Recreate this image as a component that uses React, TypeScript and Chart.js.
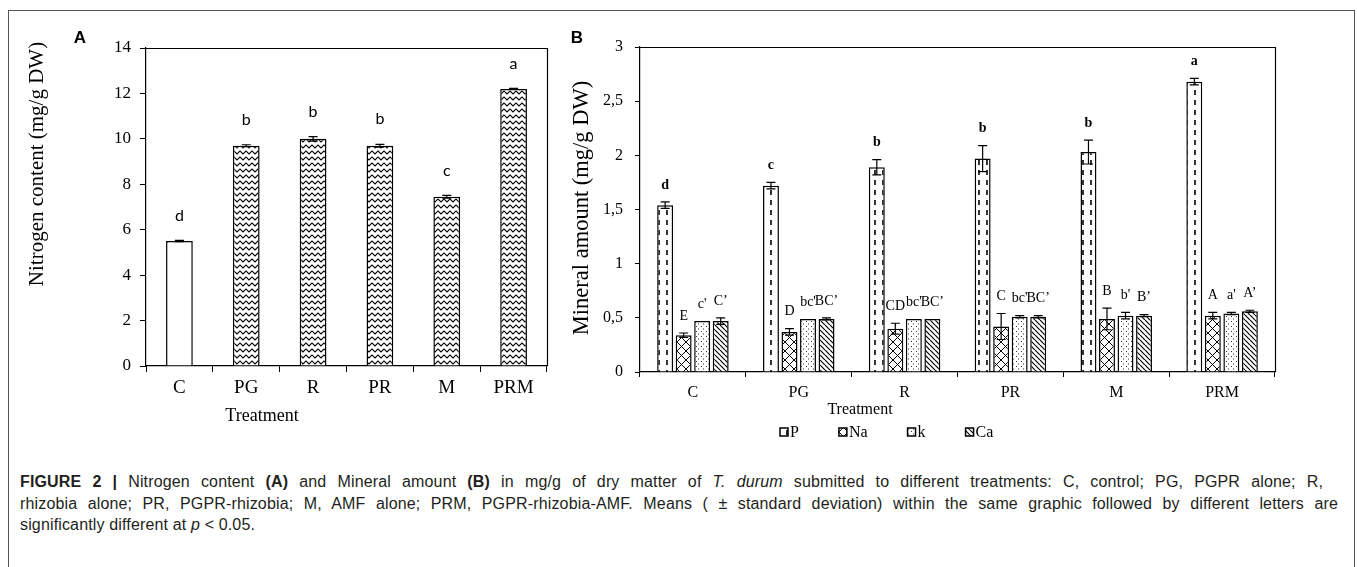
import React, { useEffect, useRef } from 'react';
import { Chart, registerables } from 'chart.js';

Chart.register(...registerables);

// ---------- data ----------
const treatments = ['C', 'PG', 'R', 'PR', 'M', 'PRM'];

const nitrogenValues = [5.5, 9.7, 10.0, 9.7, 7.45, 12.2];
const nitrogenSd = [0.03, 0.04, 0.1, 0.06, 0.06, 0.02];
const nitrogenLetters = ['d', 'b', 'b', 'b', 'c', 'a'];
const nitrogenTickMax = 14;
const nitrogenTickStep = 2;

const mineralNames = ['P', 'Na', 'k', 'Ca'];
const pValues = [1.54, 1.72, 1.89, 1.97, 2.03, 2.68];
const pSd = [0.03, 0.03, 0.07, 0.12, 0.11, 0.03];
const pLetters = ['d', 'c', 'b', 'b', 'b', 'a'];
const naValues = [0.34, 0.37, 0.4, 0.42, 0.49, 0.52];
const naSd = [0.02, 0.03, 0.05, 0.12, 0.1, 0.03];
const naLetters = ['E', 'D', 'CD', 'C', 'B', 'A'];
const kValues = [0.47, 0.49, 0.49, 0.51, 0.52, 0.54];
const kSd = [0.0, 0.0, 0.0, 0.01, 0.03, 0.01];
const kLetters = ["c'", "bc'", "bc'", "bc'", "b'", "a'"];
const caValues = [0.47, 0.49, 0.49, 0.51, 0.52, 0.56];
const caSd = [0.03, 0.01, 0.0, 0.01, 0.01, 0.01];
const caLetters = ['C’', 'BC’', 'BC’', 'BC’', 'B’', 'A’'];
const mineralTickMax = 3;
const mineralTickStep = 0.5;

const mineralSeries = [
  { name: mineralNames[0], values: pValues, sd: pSd, letters: pLetters, pattern: 'dash', bold: true },
  { name: mineralNames[1], values: naValues, sd: naSd, letters: naLetters, pattern: 'cross', bold: false },
  { name: mineralNames[2], values: kValues, sd: kSd, letters: kLetters, pattern: 'dots', bold: false },
  { name: mineralNames[3], values: caValues, sd: caSd, letters: caLetters, pattern: 'diag', bold: false },
];

// ---------- styles ----------
const SERIF = '"Liberation Serif", "Times New Roman", serif';
const SANS = 'Lato, "Liberation Sans", sans-serif';

function makePattern(kind: string): CanvasPattern | string {
  const c = document.createElement('canvas');
  const g = c.getContext('2d')!;
  let w = 6, h = 6;
  if (kind === 'zigzag') { w = 6; h = 6; }
  if (kind === 'dash') { w = 8; h = 10; }
  if (kind === 'cross') { w = 9; h = 9; }
  if (kind === 'dots') { w = 5; h = 5; }
  if (kind === 'diag') { w = 5; h = 5; }
  c.width = w; c.height = h;
  g.fillStyle = '#fff';
  g.fillRect(0, 0, w, h);
  g.strokeStyle = '#000';
  g.fillStyle = '#000';
  if (kind === 'zigzag') {
    g.lineWidth = 1.1;
    g.beginPath();
    g.moveTo(-3, 4); g.lineTo(0, 1); g.lineTo(3, 4); g.lineTo(6, 1); g.lineTo(9, 4);
    g.stroke();
  } else if (kind === 'dash') {
    g.lineWidth = 1.6;
    g.beginPath(); g.moveTo(3, 0); g.lineTo(3, 5); g.stroke();
  } else if (kind === 'cross') {
    g.lineWidth = 1;
    g.beginPath();
    g.moveTo(0, 0); g.lineTo(w, h);
    g.moveTo(w, 0); g.lineTo(0, h);
    g.stroke();
  } else if (kind === 'dots') {
    g.fillStyle = '#333';
    g.fillRect(1, 1, 1, 1);
    g.fillRect(3, 3.5, 1, 1);
  } else if (kind === 'diag') {
    g.lineWidth = 1.2;
    g.beginPath();
    for (const o of [-w, 0, w]) { g.moveTo(o, 0); g.lineTo(o + w, h); }
    g.stroke();
  }
  return g.createPattern(c, 'repeat')!;
}

function drawErrorBar(ctx: CanvasRenderingContext2D, x: number, yLo: number, yHi: number, cap: number) {
  ctx.beginPath();
  ctx.moveTo(x, yLo); ctx.lineTo(x, yHi);
  ctx.moveTo(x - cap / 2, yHi); ctx.lineTo(x + cap / 2, yHi);
  ctx.moveTo(x - cap / 2, yLo); ctx.lineTo(x + cap / 2, yLo);
  ctx.stroke();
}

function drawFrame(ctx: CanvasRenderingContext2D, ca: any) {
  ctx.strokeStyle = '#000';
  ctx.lineWidth = 1.2;
  ctx.beginPath();
  ctx.moveTo(ca.left, Math.round(ca.top) + 0.5);
  ctx.lineTo(Math.round(ca.right) + 0.5, Math.round(ca.top) + 0.5);
  ctx.lineTo(Math.round(ca.right) + 0.5, ca.bottom);
  ctx.stroke();
}

function drawRotated(ctx: CanvasRenderingContext2D, text: string, cx: number, cy: number, font: string) {
  ctx.save();
  ctx.translate(cx, cy);
  ctx.rotate(-Math.PI / 2);
  ctx.font = font;
  ctx.textAlign = 'center';
  ctx.textBaseline = 'middle';
  ctx.fillStyle = '#000';
  ctx.fillText(text, 0, 0);
  ctx.restore();
}

// ---------- panel A ----------
const annotA = {
  id: 'annotA',
  afterDraw(chart: any) {
    const { ctx, chartArea: ca, scales } = chart;
    const y = scales.y;
    ctx.save();
    drawFrame(ctx, ca);
    const meta = chart.getDatasetMeta(0);
    ctx.strokeStyle = '#000';
    ctx.lineWidth = 1.2;
    meta.data.forEach((bar: any, i: number) => {
      const v = nitrogenValues[i];
      const s = nitrogenSd[i];
      const yHi = y.getPixelForValue(v + s);
      const yLo = y.getPixelForValue(v - s);
      drawErrorBar(ctx, bar.x, yLo, yHi, 9);
      ctx.font = `16px ${SANS}`;
      ctx.fillStyle = '#000';
      ctx.textAlign = 'center';
      ctx.textBaseline = 'middle';
      ctx.fillText(nitrogenLetters[i], bar.x, yHi - 25);
    });
    drawRotated(ctx, 'Nitrogen content (mg/g DW)', 37, 164, `21px ${SERIF}`);
    ctx.font = `18px ${SERIF}`;
    ctx.textAlign = 'center';
    ctx.textBaseline = 'middle';
    ctx.fillStyle = '#000';
    ctx.fillText('Treatment', 262, 416);
    ctx.font = `bold 17px "Liberation Sans", Arial, sans-serif`;
    ctx.fillText('A', 80, 38);
    ctx.restore();
  },
};

function PanelA() {
  const ref = useRef<HTMLCanvasElement>(null);
  useEffect(() => {
    const zig = makePattern('zigzag');
    const chart = new Chart(ref.current!, {
      type: 'bar',
      data: {
        labels: treatments,
        datasets: [
          {
            label: 'Nitrogen content',
            data: nitrogenValues,
            backgroundColor: treatments.map((_, i) => (i === 0 ? '#ffffff' : zig)) as any,
            borderColor: '#000',
            borderWidth: 1.5,
            barPercentage: 0.4,
            categoryPercentage: 1,
          },
        ],
      },
      options: {
        responsive: false,
        animation: false,
        layout: { padding: { left: 0, top: 48, right: 13, bottom: 34 } },
        plugins: { legend: { display: false }, tooltip: { enabled: false } },
        scales: {
          x: {
            grid: { display: true, drawOnChartArea: false, drawTicks: true, tickLength: 6, color: '#000', offset: true },
            border: { display: true, color: '#000', width: 1.2 },
            ticks: { color: '#000', font: { family: SERIF, size: 19 }, padding: 5 },
            afterFit: (s: any) => { s.height = 40; },
          },
          y: {
            min: 0,
            max: nitrogenTickMax,
            ticks: { stepSize: nitrogenTickStep, color: '#000', font: { family: SERIF, size: 17 }, padding: 9 },
            grid: { display: true, drawOnChartArea: false, drawTicks: true, tickLength: 6, color: '#000' },
            border: { display: true, color: '#000', width: 1.2 },
            afterFit: (s: any) => { s.width = 146; },
          },
        },
      },
      plugins: [annotA],
    });
    return () => chart.destroy();
  }, []);
  return <canvas ref={ref} width={560} height={440} style={{ position: 'absolute', left: 0, top: 0 }} />;
}

// ---------- panel B ----------
function makeAnnotB(patterns: any[]) {
  return {
    id: 'annotB',
    afterDraw(chart: any) {
      const { ctx, chartArea: ca, scales } = chart;
      const y = scales.y;
      ctx.save();
      drawFrame(ctx, ca);
      ctx.strokeStyle = '#000';
      ctx.lineWidth = 1.2;
      mineralSeries.forEach((ser, d) => {
        const meta = chart.getDatasetMeta(d);
        meta.data.forEach((bar: any, i: number) => {
          const v = ser.values[i];
          const s = ser.sd[i];
          const yHi = y.getPixelForValue(v + s);
          const yLo = y.getPixelForValue(v - s);
          if (s > 0) drawErrorBar(ctx, bar.x, yLo, yHi, 9);
          ctx.font = ser.bold ? `bold 14px ${SERIF}` : `14px ${SERIF}`;
          ctx.fillStyle = '#000';
          ctx.textAlign = 'center';
          ctx.textBaseline = 'middle';
          ctx.fillText(ser.letters[i], bar.x, Math.min(yHi, bar.y) - 17);
        });
      });
      drawRotated(ctx, 'Mineral amount (mg/g DW)', 22, 208, `22.5px ${SERIF}`);
      ctx.font = `16px ${SERIF}`;
      ctx.textAlign = 'center';
      ctx.textBaseline = 'middle';
      ctx.fillStyle = '#000';
      ctx.fillText('Treatment', 300, 410);
      ctx.font = `bold 17px "Liberation Sans", Arial, sans-serif`;
      ctx.fillText('B', 17, 38);
      // legend
      let lx = 220;
      const ly = 432;
      ctx.font = `16px ${SERIF}`;
      ctx.textAlign = 'left';
      mineralSeries.forEach((ser, d) => {
        ctx.fillStyle = patterns[d];
        ctx.fillRect(lx, ly - 4, 8, 8);
        ctx.strokeStyle = '#000';
        ctx.lineWidth = 1.5;
        ctx.strokeRect(lx, ly - 4, 8, 8);
        ctx.fillStyle = '#000';
        ctx.fillText(ser.name, lx + 10, ly + 1);
        lx += 10 + ctx.measureText(ser.name).width + 40;
      });
      ctx.restore();
    },
  };
}

function PanelB() {
  const ref = useRef<HTMLCanvasElement>(null);
  useEffect(() => {
    const patterns = mineralSeries.map((s) => makePattern(s.pattern));
    const chart = new Chart(ref.current!, {
      type: 'bar',
      data: {
        labels: treatments,
        datasets: mineralSeries.map((s, d) => ({
          label: s.name,
          data: s.values,
          backgroundColor: patterns[d] as any,
          borderColor: '#000',
          borderWidth: 1.5,
          barPercentage: 0.86,
          categoryPercentage: 0.7,
        })),
      },
      options: {
        responsive: false,
        animation: false,
        layout: { padding: { left: 0, top: 47, right: 82, bottom: 33 } },
        plugins: { legend: { display: false }, tooltip: { enabled: false } },
        scales: {
          x: {
            grid: { display: true, drawOnChartArea: false, drawTicks: true, tickLength: 5, color: '#000', offset: true },
            border: { display: true, color: '#000', width: 1.2 },
            ticks: { color: '#000', font: { family: SERIF, size: 16 }, padding: 6 },
            afterFit: (s: any) => { s.height = 35; },
          },
          y: {
            min: 0,
            max: mineralTickMax,
            ticks: {
              stepSize: mineralTickStep,
              color: '#000',
              font: { family: SERIF, size: 16 },
              padding: 12,
              callback: (v: any) => String(v).replace('.', ','),
            },
            grid: { display: true, drawOnChartArea: false, drawTicks: true, tickLength: 5, color: '#000' },
            border: { display: true, color: '#000', width: 1.2 },
            afterFit: (s: any) => { s.width = 80; },
          },
        },
      },
      plugins: [makeAnnotB(patterns)],
    });
    return () => chart.destroy();
  }, []);
  return <canvas ref={ref} width={797} height={440} style={{ position: 'absolute', left: 560, top: 0 }} />;
}

// ---------- caption ----------
const captionStyle: React.CSSProperties = {
  position: 'absolute',
  left: 20,
  top: 471,
  fontFamily: '"Liberation Sans", Arial, sans-serif',
  fontSize: 16,
  letterSpacing: '0.15px',
  lineHeight: '21.5px',
  color: '#231f20',
  whiteSpace: 'nowrap',
};

const justified = (w: number): React.CSSProperties => ({
  width: w,
  textAlign: 'justify',
  textAlignLast: 'justify',
  whiteSpace: 'normal',
});

export default function App() {
  return (
    <div style={{ position: 'absolute', left: 0, top: 0, width: 1357, height: 567, background: '#fff', overflow: 'hidden' }}>
      <div style={{ position: 'absolute', left: 8, top: 10, width: 1347, height: 600, border: '1px solid #555', boxSizing: 'border-box' }} />
      <PanelA />
      <PanelB />
      <div style={captionStyle}>
        <div style={justified(1303)}>
          <b>FIGURE 2 |</b> Nitrogen content <b>(A)</b> and Mineral amount <b>(B)</b> in mg/g of dry matter of <i>T. durum</i> submitted to different treatments: C, control; PG, PGPR alone; R,
        </div>
        <div style={justified(1318)}>
          rhizobia alone; PR, PGPR-rhizobia; M, AMF alone; PRM, PGPR-rhizobia-AMF. Means ( ± standard deviation) within the same graphic followed by different letters are
        </div>
        <div>
          significantly different at <i>p</i> &lt; 0.05.
        </div>
      </div>
    </div>
  );
}
